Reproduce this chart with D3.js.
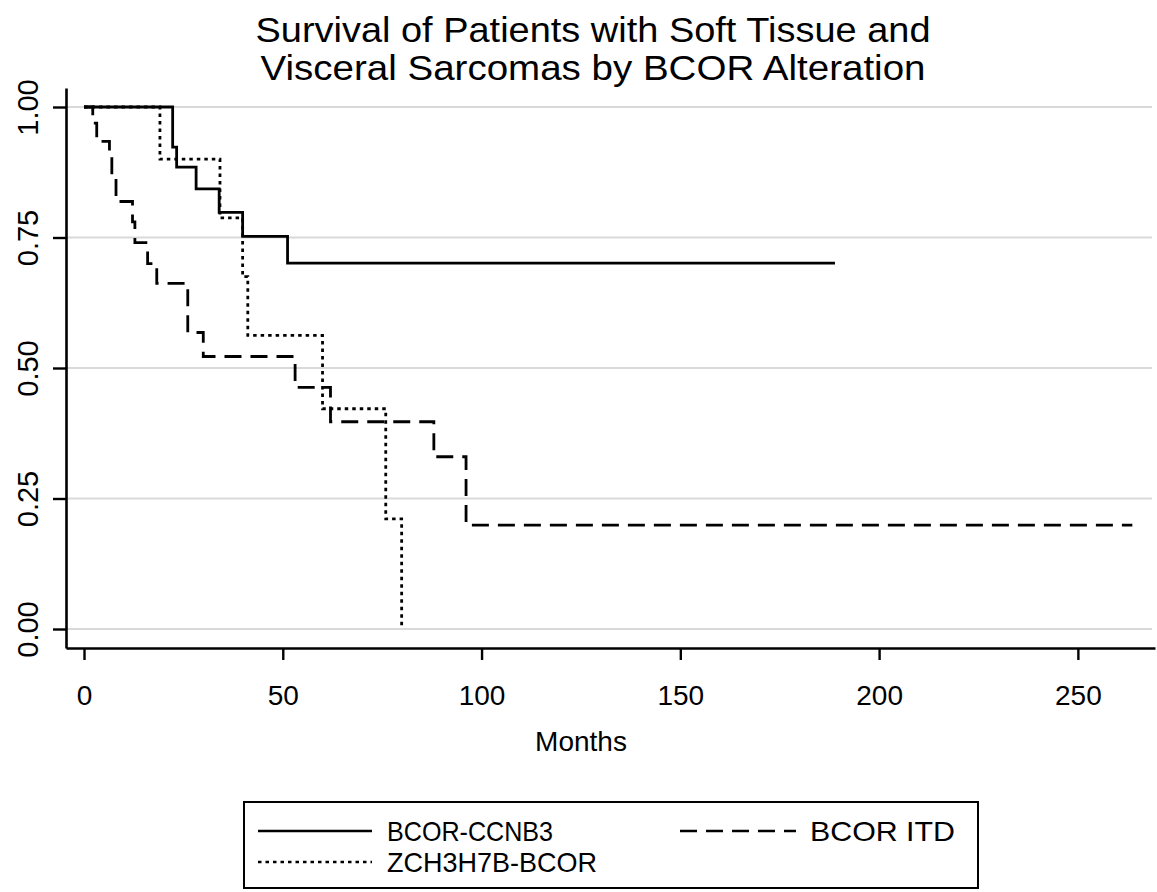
<!DOCTYPE html>
<html>
<head>
<meta charset="utf-8">
<script src="https://cdn.jsdelivr.net/npm/d3@7"></script>
<style>
  html, body { margin: 0; padding: 0; background: #fff; }
  svg { display: block; }
  text { font-family: "Liberation Sans", Arial, Helvetica, sans-serif; fill: #000; }
</style>
</head>
<body>
<svg id="chart" width="1157" height="892"></svg>
<script>
// ---- data ----
const titleLines = ["Survival of Patients with Soft Tissue and", "Visceral Sarcomas by BCOR Alteration"];
const xLabel = "Months";
const xTicks = [0, 50, 100, 150, 200, 250];
const yTicks = [0, 0.25, 0.5, 0.75, 1.0];
const yTickLabels = ["0.00", "0.25", "0.50", "0.75", "1.00"];

const ccnb3Months = [0, 22.3, 23.3, 28.2, 34.0, 39.9, 51.2, 188.9];
const ccnb3Surv   = [1, 0.923, 0.885, 0.843, 0.798, 0.752, 0.701, 0.701];

const zchMonths = [0, 19.1, 34.2, 39.9, 41.2, 60.0, 75.9, 79.9];
const zchSurv   = [1, 0.900, 0.7875, 0.675, 0.5625, 0.4219, 0.2109, 0];

const itdMonths = [0, 2.2, 3.2, 6.4, 7.0, 8.05, 12.2, 12.8, 16.0, 18.3, 26.1, 30.0, 53.1, 62.0, 88.0, 96.1, 263.7];
const itdSurv   = [1, 0.969, 0.934, 0.905, 0.867, 0.819, 0.780, 0.740, 0.700, 0.662, 0.568, 0.522, 0.463, 0.397, 0.330, 0.199, 0.199];

const seriesNames = ["BCOR-CCNB3", "BCOR ITD", "ZCH3H7B-BCOR"];

// ---- build ----
const series = [
  {name: seriesNames[0], t: ccnb3Months, s: ccnb3Surv, dash: null},
  {name: seriesNames[1], t: itdMonths, s: itdSurv, dash: "17,9"},
  {name: seriesNames[2], t: zchMonths, s: zchSurv, dash: "3.5,4"}
];

const svg = d3.select("#chart");

const x = d3.scaleLinear().domain([-4.53, 269.4]).range([66, 1155]);
const y = d3.scaleLinear().domain([-0.0364, 1.0364]).range([648, 88]);

// gridlines
svg.append("g").selectAll("line").data(yTicks).join("line")
  .attr("x1", 66).attr("x2", 1152)
  .attr("y1", d => y(d)).attr("y2", d => y(d))
  .attr("stroke", "#d9d9d9").attr("stroke-width", 2);

// axes
const gx = svg.append("g").attr("transform", "translate(0,648)")
  .call(d3.axisBottom(x).tickValues(xTicks).tickSize(12).tickSizeOuter(0).tickFormat(d3.format("d")));
const gy = svg.append("g").attr("transform", "translate(66,0)")
  .call(d3.axisLeft(y).tickValues(yTicks).tickSize(13).tickSizeOuter(0).tickFormat((d, i) => yTickLabels[i]));

[gx, gy].forEach(g => {
  g.select(".domain").attr("stroke", "#000").attr("stroke-width", 2.6);
  g.selectAll(".tick line").attr("stroke", "#000").attr("stroke-width", 2.4);
});
gx.selectAll(".tick text")
  .attr("font-size", 28).attr("font-family", "Liberation Sans, Arial, sans-serif")
  .attr("y", 0).attr("dy", 0)
  .attr("transform", "translate(0,57)");
gy.selectAll(".tick text")
  .attr("font-size", 29).attr("font-family", "Liberation Sans, Arial, sans-serif")
  .attr("x", 0).attr("dy", 0)
  .attr("text-anchor", "middle")
  .attr("transform", "translate(-28,0) rotate(-90)");

// title
const titleWidths = [675, 665];
svg.append("g").selectAll("text").data(titleLines).join("text")
  .attr("x", 593).attr("y", (d, i) => 42 + i * 38)
  .attr("text-anchor", "middle").attr("font-size", 35)
  .attr("textLength", (d, i) => titleWidths[i]).attr("lengthAdjust", "spacingAndGlyphs")
  .text(d => d);

// x label
svg.append("text").attr("x", 581).attr("y", 751)
  .attr("text-anchor", "middle").attr("font-size", 28).text(xLabel);

// curves
const line = d3.line().x(d => x(d[0])).y(d => y(d[1])).curve(d3.curveStepAfter);
svg.append("g").selectAll("path").data(series).join("path")
  .attr("d", d => line(d.t.map((t, i) => [t, d.s[i]])))
  .attr("fill", "none").attr("stroke", "#000").attr("stroke-width", 2.8)
  .attr("stroke-dasharray", d => d.dash);

// legend
const lg = svg.append("g");
lg.append("rect").attr("x", 244).attr("y", 802).attr("width", 734).attr("height", 86)
  .attr("fill", "#fff").attr("stroke", "#000").attr("stroke-width", 2);
const legendPos = [
  {lx1: 258, lx2: 372, tx: 387, cy: 831, w: 166},
  {lx1: 680, lx2: 796, tx: 810, cy: 831, w: 145},
  {lx1: 258, lx2: 372, tx: 387, cy: 862, w: 210}
];
series.forEach((s, i) => {
  const p = legendPos[i];
  lg.append("line").attr("x1", p.lx1).attr("x2", p.lx2).attr("y1", p.cy).attr("y2", p.cy)
    .attr("stroke", "#000").attr("stroke-width", 2.4).attr("stroke-dasharray", s.dash);
  lg.append("text").attr("x", p.tx).attr("y", p.cy + 10).attr("font-size", 28)
    .attr("textLength", p.w).attr("lengthAdjust", "spacingAndGlyphs")
    .text(s.name);
});
</script>
</body>
</html>
